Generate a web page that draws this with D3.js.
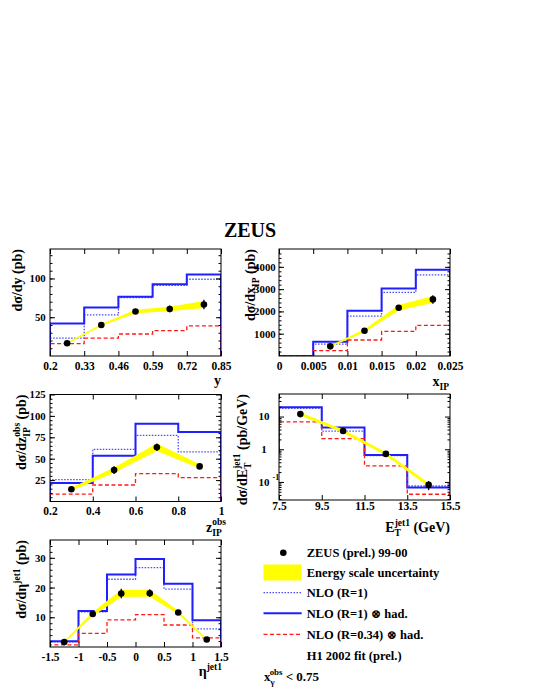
<!DOCTYPE html>
<html>
<head>
<meta charset="utf-8">
<script src="https://cdn.jsdelivr.net/npm/d3@7"></script>
<style>
body { margin: 0; background: #fff; }
svg text { font-family: "Liberation Serif", "Times New Roman", "DejaVu Serif", serif; font-weight: bold; fill: #000; }
</style>
</head>
<body>
<svg id="chart" width="540" height="699"></svg>
<script>
/* Data
============================================= */
// d sigma / d y
const yEdges = [0.2, 0.33, 0.46, 0.59, 0.72, 0.85];
const yCentres = [0.265, 0.395, 0.525, 0.655, 0.785];
const yData = [16.4, 40.0, 57.3, 60.7, 66.4];
const yErr = [1.2, 2.2, 2.5, 4.3, 6.0];
const yBandLo = [15.3, 38.6, 55.0, 57.8, 62.0];
const yBandHi = [17.5, 41.4, 59.6, 63.6, 70.8];
const yNlo = [23.0, 53.0, 75.4, 91.0, 99.0];
const yNloHad = [42.0, 62.5, 76.3, 92.6, 105.0];
const yNloR034 = [16.0, 23.0, 28.4, 32.8, 38.8];
const yXTicks = [0.2, 0.33, 0.46, 0.59, 0.72, 0.85];
const yXLabels = ["0.2", "0.33", "0.46", "0.59", "0.72", "0.85"];
const yYTicks = [50, 100];

// d sigma / d x_IP
const xpEdges = [0, 0.005, 0.01, 0.015, 0.02, 0.025];
const xpCentres = [0.0075, 0.0125, 0.0175, 0.0225];
const xpData = [434, 1133, 2163, 2539];
const xpErr = [60, 70, 80, 190];
const xpBandLo = [400, 1070, 2040, 2390];
const xpBandHi = [470, 1200, 2290, 2690];
const xpNlo = [0, 537, 1791, 2850, 3642];
const xpNloHad = [0, 640, 2030, 3030, 3865];
const xpNloR034 = [0, 240, 717, 1105, 1373];
const xpXTicks = [0, 0.005, 0.01, 0.015, 0.02, 0.025];
const xpXLabels = ["0", "0.005", "0.01", "0.015", "0.02", "0.025"];
const xpYTicks = [1000, 2000, 3000, 4000];

// d sigma / d z_IP^obs
const zEdges = [0.2, 0.4, 0.6, 0.8, 1.0];
const zCentres = [0.3, 0.5, 0.7, 0.9];
const zData = [14.3, 36.7, 63.4, 41.0];
const zErr = [1.5, 4.5, 4.5, 2.0];
const zBandLo = [12.5, 33.5, 59.0, 38.5];
const zBandHi = [16.0, 39.8, 67.8, 43.5];
const zNlo = [25.5, 61.0, 77.3, 58.0];
const zNloHad = [21.6, 53.4, 90.8, 81.2];
const zNloR034 = [8.5, 19.3, 32.5, 27.8];
const zXTicks = [0.2, 0.4, 0.6, 0.8, 1.0];
const zXLabels = ["0.2", "0.4", "0.6", "0.8", "1"];
const zYTicks = [25, 50, 75, 100, 125];

// d sigma / d E_T^jet1
const etEdges = [7.5, 9.5, 11.5, 13.5, 15.5];
const etCentres = [8.5, 10.5, 12.5, 14.5];
const etData = [11.9, 3.6, 0.72, 0.081];
const etErr = [0.8, 0.25, 0.05, 0.025];
const etBandLo = [10.6, 3.2, 0.64, 0.071];
const etBandHi = [13.3, 4.0, 0.81, 0.092];
const etNlo = [17.8, 3.6, 0.64, 0.075];
const etNloHad = [19.1, 4.6, 0.67, 0.067];
const etNloR034 = [6.9, 2.1, 0.31, 0.042];
const etXTicks = [7.5, 9.5, 11.5, 13.5, 15.5];
const etXLabels = ["7.5", "9.5", "11.5", "13.5", "15.5"];
const etYTicks = [0.1, 1, 10];

// d sigma / d eta^jet1
const etaEdges = [-1.5, -1, -0.5, 0, 0.5, 1, 1.5];
const etaCentres = [-1.25, -0.75, -0.25, 0.25, 0.75, 1.25];
const etaData = [1.7, 11.1, 18.0, 18.1, 11.6, 2.5];
const etaErr = [0.4, 1.0, 1.6, 1.3, 0.8, 0.4];
const etaBandLo = [1.4, 10.4, 16.8, 16.9, 11.0, 2.2];
const etaBandHi = [2.0, 11.8, 19.3, 19.3, 12.2, 2.8];
const etaNlo = [1.7, 11.8, 22.8, 26.7, 19.5, 6.1];
const etaNloHad = [1.95, 12.1, 24.4, 29.6, 21.3, 9.0];
const etaNloR034 = [0.7, 4.6, 9.1, 10.9, 7.4, 3.1];
const etaXTicks = [-1.5, -1, -0.5, 0, 0.5, 1, 1.5];
const etaXLabels = ["-1.5", "-1", "-0.5", "0", "0.5", "1", "1.5"];
const etaYTicks = [10, 20, 30];

/* Styles
============================================= */
const YELLOW = "#ffff00";
const BLUE = "#1f1fff";
const BLUE_DOT = "#4a4aff";
const RED = "#ff1a1a";

const svg = d3.select("#chart");

// rich text: parts = [{t, s: "sub"|"sup", dx}]
function rich(text, parts, size) {
    var cur = 0;
    parts.forEach(function(p) {
        var off = p.s === "sub" ? size * 0.32 : (p.s === "sup" ? -size * 0.45 : 0);
        var ts = text.append("tspan")
            .attr("dy", off - cur)
            .style("font-size", (p.s ? size * 0.68 : size) + "px")
            .text(p.t);
        if (p.dx) ts.attr("dx", p.dx);
        cur = off;
    });
    return text;
}

function range(a, b, step) {
    var out = [];
    for (var v = a; v <= b + 1e-9; v += step) out.push(+v.toFixed(6));
    return out;
}

/*
 * draws one ROOT-like panel
 */
function drawPanel(p) {
    var g = svg.append("g");
    var right = p.left + p.w, bottom = p.top + p.h;

    var x = d3.scaleLinear().domain(p.xDomain).range([p.left, right]);
    var y = (p.log ? d3.scaleLog() : d3.scaleLinear()).domain(p.yDomain).range([bottom, p.top]);

    var clipId = "clip" + p.id;
    svg.append("clipPath").attr("id", clipId)
        .append("rect").attr("x", p.left).attr("y", p.top).attr("width", p.w).attr("height", p.h);

    var plot = g.append("g").attr("clip-path", "url(#" + clipId + ")");

    // histograms
    function histPath(vals) {
        var pts = [[x(p.edges[0]), y(p.base)]];
        vals.forEach(function(v, i) {
            pts.push([x(p.edges[i]), y(v)]);
            pts.push([x(p.edges[i + 1]), y(v)]);
        });
        pts.push([x(p.edges[p.edges.length - 1]), y(p.base)]);
        return d3.line()(pts);
    }
    plot.append("path").attr("d", histPath(p.nlo)).attr("fill", "none")
        .attr("stroke", BLUE_DOT).attr("stroke-width", 1.3).attr("stroke-dasharray", "1.5,1.5");
    plot.append("path").attr("d", histPath(p.nloHad)).attr("fill", "none")
        .attr("stroke", BLUE).attr("stroke-width", 2);
    plot.append("path").attr("d", histPath(p.nloR034)).attr("fill", "none")
        .attr("stroke", RED).attr("stroke-width", 1.3).attr("stroke-dasharray", "4,2.5");

    // energy scale band
    var upper = p.centres.map(function(c, i) { return [x(c), y(p.bandHi[i])]; });
    var lower = p.centres.map(function(c, i) { return [x(c), y(p.bandLo[i])]; }).reverse();
    plot.append("path").attr("d", d3.line()(upper.concat(lower)) + "Z").attr("fill", YELLOW);

    // data points
    var pts = plot.append("g");
    pts.selectAll("line")
        .data(p.centres)
        .enter()
        .append("line")
        .attr("x1", function(c) { return x(c); })
        .attr("x2", function(c) { return x(c); })
        .attr("y1", function(c, i) { return y(p.data[i] - p.err[i]); })
        .attr("y2", function(c, i) { return y(p.data[i] + p.err[i]); })
        .attr("stroke", "#000").attr("stroke-width", 1.3);
    pts.selectAll("circle")
        .data(p.centres)
        .enter()
        .append("circle")
        .attr("cx", function(c) { return x(c); })
        .attr("cy", function(c, i) { return y(p.data[i]); })
        .attr("r", 3.3)
        .attr("fill", "#000");

    // frame
    g.append("rect").attr("x", p.left).attr("y", p.top).attr("width", p.w).attr("height", p.h)
        .attr("fill", "none").attr("stroke", "#000").attr("stroke-width", 1);

    // axes
    function styleAxis(a, size) {
        a.select(".domain").remove();
        a.attr("font-family", null).attr("font-size", size || 11.5);
        a.selectAll("line").attr("stroke-width", 1);
        return a;
    }
    var bottomAxis = d3.axisBottom(x).tickValues(p.xTicks).tickSizeInner(-5).tickSizeOuter(0)
        .tickPadding(p.xPad).tickFormat(function(d, i) { return p.xLabels[i]; });
    styleAxis(g.append("g").attr("transform", "translate(0," + bottom + ")").call(bottomAxis));
    styleAxis(g.append("g").attr("transform", "translate(0," + p.top + ")")
        .call(d3.axisTop(x).tickValues(p.xTicks).tickSizeInner(-5).tickSizeOuter(0).tickFormat("")));

    var leftAxis = d3.axisLeft(y).tickValues(p.yTicks).tickSizeInner(-5).tickSizeOuter(0)
        .tickPadding(p.yPad).tickFormat(p.log ? "" : function(d) { return d; });
    styleAxis(g.append("g").attr("transform", "translate(" + p.left + ",0)").call(leftAxis), 10.8);
    styleAxis(g.append("g").attr("transform", "translate(" + right + ",0)")
        .call(d3.axisRight(y).tickValues(p.yTicks).tickSizeInner(-5).tickSizeOuter(0).tickFormat("")));

    // minor ticks
    styleAxis(g.append("g").attr("transform", "translate(" + p.left + ",0)")
        .call(d3.axisLeft(y).tickValues(p.yMinor).tickSizeInner(-2.5).tickSizeOuter(0).tickFormat("")));
    styleAxis(g.append("g").attr("transform", "translate(" + right + ",0)")
        .call(d3.axisRight(y).tickValues(p.yMinor).tickSizeInner(-2.5).tickSizeOuter(0).tickFormat("")));

    // log labels 10, 1, 10^-1
    if (p.log) {
        var lab = g.append("g").style("font-size", "11px");
        lab.append("text").attr("x", 264).attr("y", y(10)).attr("dy", "0.35em")
            .attr("text-anchor", "middle").text("10");
        lab.append("text").attr("x", 264).attr("y", y(1)).attr("dy", "0.35em")
            .attr("text-anchor", "middle").text("1");
        lab.append("text").attr("x", 264).attr("y", y(0.1)).attr("dy", "0.35em")
            .attr("text-anchor", "middle").text("10");
        lab.append("text").attr("x", 272.5).attr("y", y(0.1) - 5).attr("dy", "0.35em")
            .style("font-size", "8px").text("-1");
    }

    // y title
    var yt = g.append("text")
        .attr("transform", "translate(" + p.yTitleX + "," + p.top + ") rotate(-90)")
        .attr("text-anchor", "end")
        .style("font-size", "14px");
    rich(yt, p.yTitle, 14);

    // x title
    var xt = g.append("text")
        .attr("x", p.xTitleX).attr("y", p.xTitleY)
        .attr("text-anchor", "end")
        .style("font-size", "14px");
    rich(xt, p.xTitle, 14);
}

/* Panels
============================================= */
drawPanel({
    id: 1, left: 50, top: 249, w: 171, h: 107,
    xDomain: [0.2, 0.85], yDomain: [0, 138], base: 0,
    edges: yEdges, centres: yCentres, data: yData, err: yErr,
    bandLo: yBandLo, bandHi: yBandHi, nlo: yNlo, nloHad: yNloHad, nloR034: yNloR034,
    xTicks: yXTicks, xLabels: yXLabels, xPad: 5.8,
    yTicks: yYTicks, yMinor: range(10, 130, 10), yPad: 4.3,
    yTitleX: 21.5, yTitle: [{t: "dσ/dy (pb)"}],
    xTitleX: 221, xTitleY: 385, xTitle: [{t: "y"}]
});

drawPanel({
    id: 2, left: 279, top: 249, w: 171, h: 107,
    xDomain: [0, 0.025], yDomain: [0, 4800], base: 0,
    edges: xpEdges, centres: xpCentres, data: xpData, err: xpErr,
    bandLo: xpBandLo, bandHi: xpBandHi, nlo: xpNlo, nloHad: xpNloHad, nloR034: xpNloR034,
    xTicks: xpXTicks, xLabels: xpXLabels, xPad: 5.8,
    yTicks: xpYTicks, yMinor: range(200, 4600, 200), yPad: 3.3,
    yTitleX: 254.5, yTitle: [{t: "dσ/dx"}, {t: "IP", s: "sub"}, {t: " (pb)"}],
    xTitleX: 449, xTitleY: 386, xTitle: [{t: "x"}, {t: "IP", s: "sub"}]
});

drawPanel({
    id: 3, left: 50, top: 394.5, w: 171, h: 107,
    xDomain: [0.2, 1], yDomain: [0, 125], base: 0,
    edges: zEdges, centres: zCentres, data: zData, err: zErr,
    bandLo: zBandLo, bandHi: zBandHi, nlo: zNlo, nloHad: zNloHad, nloR034: zNloR034,
    xTicks: zXTicks, xLabels: zXLabels, xPad: 5.8,
    yTicks: zYTicks, yMinor: range(5, 120, 5), yPad: 4.3,
    yTitleX: 26, yTitle: [{t: "dσ/dz"}, {t: "IP", s: "sub"}, {t: "obs", s: "sup", dx: -9.5}, {t: " (pb)"}],
    xTitleX: 226, xTitleY: 531.5, xTitle: [{t: "z"}, {t: "IP", s: "sub"}, {t: "obs", s: "sup", dx: -9.5}]
});

drawPanel({
    id: 4, left: 279, top: 394, w: 171, h: 106, log: true,
    xDomain: [7.5, 15.5], yDomain: [0.028, 49], base: 0.75,
    edges: etEdges, centres: etCentres, data: etData, err: etErr,
    bandLo: etBandLo, bandHi: etBandHi, nlo: etNlo, nloHad: etNloHad, nloR034: etNloR034,
    xTicks: etXTicks, xLabels: etXLabels, xPad: 1.8,
    yTicks: etYTicks,
    yMinor: [0.03, 0.04, 0.05, 0.06, 0.07, 0.08, 0.09, 0.2, 0.3, 0.4, 0.5, 0.6, 0.7, 0.8, 0.9,
             2, 3, 4, 5, 6, 7, 8, 9, 20, 30, 40],
    yPad: 4,
    yTitleX: 246.5, yTitle: [{t: "dσ/dE"}, {t: "T", s: "sub"}, {t: "jet1", s: "sup", dx: -6.3}, {t: " (pb/GeV)"}],
    xTitleX: 450, xTitleY: 532, xTitle: [{t: "E"}, {t: "T", s: "sub"}, {t: "jet1", s: "sup", dx: -6.3}, {t: " (GeV)"}]
});

drawPanel({
    id: 5, left: 50, top: 540, w: 171, h: 107,
    xDomain: [-1.5, 1.5], yDomain: [0, 36], base: 0,
    edges: etaEdges, centres: etaCentres, data: etaData, err: etaErr,
    bandLo: etaBandLo, bandHi: etaBandHi, nlo: etaNlo, nloHad: etaNloHad, nloR034: etaNloR034,
    xTicks: etaXTicks, xLabels: etaXLabels, xPad: 5.8,
    yTicks: etaYTicks, yMinor: range(2, 34, 2), yPad: 4.3,
    yTitleX: 26, yTitle: [{t: "dσ/dη"}, {t: "jet1", s: "sup"}, {t: " (pb)"}],
    xTitleX: 222, xTitleY: 676, xTitle: [{t: "η"}, {t: "jet1", s: "sup"}]
});

/* Title and legend
============================================= */
svg.append("text").attr("x", 250).attr("y", 237).attr("text-anchor", "middle")
    .style("font-size", "20px").text("ZEUS");

var legend = svg.append("g").style("font-size", "12.5px");
legend.append("circle").attr("cx", 283.3).attr("cy", 552.7).attr("r", 3.3).attr("fill", "#000");
legend.append("rect").attr("x", 263.5).attr("y", 564.5).attr("width", 38).attr("height", 16).attr("fill", YELLOW);
legend.append("line").attr("x1", 263.5).attr("x2", 301.7).attr("y1", 592.7).attr("y2", 592.7)
    .attr("stroke", BLUE_DOT).attr("stroke-width", 1.3).attr("stroke-dasharray", "1.5,1.5");
legend.append("line").attr("x1", 263.5).attr("x2", 301.7).attr("y1", 613.3).attr("y2", 613.3)
    .attr("stroke", BLUE).attr("stroke-width", 2);
legend.append("line").attr("x1", 263.5).attr("x2", 301.7).attr("y1", 634.3).attr("y2", 634.3)
    .attr("stroke", RED).attr("stroke-width", 1.3).attr("stroke-dasharray", "4,2.5");

var legendText = [
    ["ZEUS (prel.) 99-00", 556.7],
    ["Energy scale uncertainty", 576.7],
    ["NLO (R=1)", 596.7],
    ["NLO (R=1) \u2297 had.", 617.5],
    ["NLO (R=0.34) \u2297 had.", 638.5],
    ["H1 2002 fit (prel.)", 660]
];
legend.selectAll("text.entry")
    .data(legendText)
    .enter()
    .append("text")
    .attr("class", "entry")
    .attr("x", 306.7)
    .attr("y", function(d) { return d[1]; })
    .text(function(d) { return d[0]; });

var xg = legend.append("text").attr("x", 264).attr("y", 680.5).style("font-size", "13px");
rich(xg, [{t: "x"}, {t: "\u03b3", s: "sub"}, {t: "obs", s: "sup", dx: -5}, {t: " < 0.75"}], 13);
</script>
</body>
</html>
